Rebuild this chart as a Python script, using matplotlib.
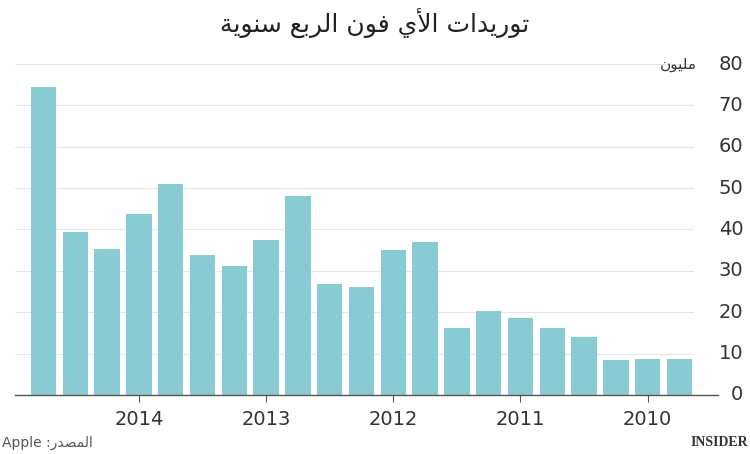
import matplotlib
matplotlib.use("Agg")
import matplotlib.pyplot as plt

values = [74.5, 39.3, 35.2, 43.8, 51.0, 33.8, 31.2, 37.4, 48.0, 26.9, 26.0,
          35.1, 37.0, 16.2, 20.3, 18.6, 16.2, 14.1, 8.4, 8.7, 8.8]
year_pos = [3, 7, 11, 15, 19]
year_labels = ["2014", "2013", "2012", "2011", "2010"]
yticks = [0, 10, 20, 30, 40, 50, 60, 70, 80]

FORMS = {
    'ا': (0xFE8D, 0xFE8E, None, None), 'أ': (0xFE83, 0xFE84, None, None),
    'ب': (0xFE8F, 0xFE90, 0xFE91, 0xFE92), 'ت': (0xFE95, 0xFE96, 0xFE97, 0xFE98),
    'ة': (0xFE93, 0xFE94, None, None), 'د': (0xFEA9, 0xFEAA, None, None),
    'ر': (0xFEAD, 0xFEAE, None, None), 'س': (0xFEB1, 0xFEB2, 0xFEB3, 0xFEB4),
    'ص': (0xFEB9, 0xFEBA, 0xFEBB, 0xFEBC), 'ع': (0xFEC9, 0xFECA, 0xFECB, 0xFECC),
    'ف': (0xFED1, 0xFED2, 0xFED3, 0xFED4), 'ل': (0xFEDD, 0xFEDE, 0xFEDF, 0xFEE0),
    'م': (0xFEE1, 0xFEE2, 0xFEE3, 0xFEE4), 'ن': (0xFEE5, 0xFEE6, 0xFEE7, 0xFEE8),
    'و': (0xFEED, 0xFEEE, None, None), 'ي': (0xFEF1, 0xFEF2, 0xFEF3, 0xFEF4),
}
LIG = {('ل', 'ا'): (0xFEFB, 0xFEFC), ('ل', 'أ'): (0xFEF7, 0xFEF8)}

def dual(c):
    return c in FORMS and FORMS[c][2] is not None

def shape(s):
    # ligatures first
    units = []
    i = 0
    while i < len(s):
        if i + 1 < len(s) and (s[i], s[i+1]) in LIG:
            units.append(('LIG', LIG[(s[i], s[i+1])]))
            i += 2
        else:
            units.append(('C', s[i]))
            i += 1
    out = []
    for k, (t, v) in enumerate(units):
        prev = units[k-1] if k > 0 else None
        nxt = units[k+1] if k + 1 < len(units) else None
        jp = prev is not None and prev[0] == 'C' and dual(prev[1])
        if t == 'LIG':
            out.append(chr(v[1] if jp else v[0]))
            continue
        if v not in FORMS:
            out.append(v)
            continue
        f = FORMS[v]
        jn = dual(v) and nxt is not None and (nxt[0] == 'LIG' or nxt[1] in FORMS)
        if jp and jn:
            out.append(chr(f[3]))
        elif jp:
            out.append(chr(f[1]))
        elif jn:
            out.append(chr(f[2]))
        else:
            out.append(chr(f[0]))
    return ''.join(out)[::-1]

title = "توريدات الأي فون الربع سنوية"
unit = "مليون"
source = "المصدر"

fig = plt.figure(figsize=(7.5, 4.54), dpi=100)
ax = fig.add_axes([0.02, 0.13, 0.905, 0.729])
x = list(range(len(values)))
ax.bar(x, values, width=0.8, color="#89cbd2", zorder=2)
ax.set_xlim(-0.9, 20.45)
ax.set_ylim(0, 80)
for s in ax.spines.values():
    s.set_visible(False)
ax.set_yticks([])
for v in yticks[1:]:
    ax.axhline(v, color="#e6e6e6", lw=0.8, zorder=1)
ax.plot([0, 1.035], [0, 0], transform=ax.transAxes, color="#555555", lw=1, clip_on=False, zorder=3)
for v in yticks:
    ax.text(1.073, v, str(v), transform=ax.get_yaxis_transform(), ha='right', va='center',
            fontsize=14, color="#333333")
ax.text(1.005, 80, shape(unit), transform=ax.get_yaxis_transform(), ha='right', va='center',
        fontsize=11, color="#333333")
ax.set_xticks(year_pos)
ax.set_xticklabels(year_labels, fontsize=14, color="#333333")
ax.tick_params(axis='x', length=5, color="#555555", pad=6)

fig.text(0.5, 0.95, shape(title), ha='center', va='center', fontsize=18, color="#222222")
fig.text(0.003, 0.025, "Apple :" + shape(source), ha='left', va='center', fontsize=10, color="#555555")
fig.text(0.997, 0.025, "INSIDER", ha='right', va='center', fontsize=10, color="#333333",
         fontweight='bold', family='Liberation Serif')
fig.savefig("out.png", dpi=100)
